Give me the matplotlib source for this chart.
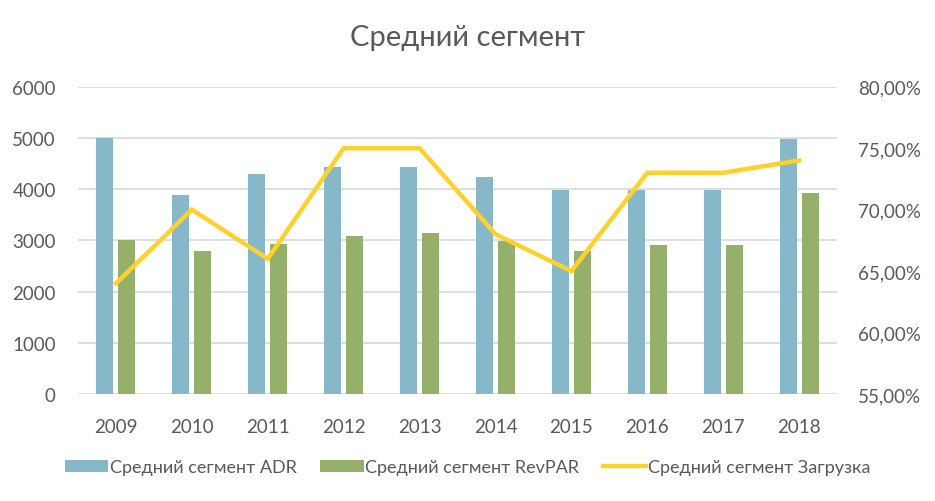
import matplotlib.pyplot as plt
import numpy as np
from matplotlib.ticker import FuncFormatter

years = ['2009', '2010', '2011', '2012', '2013', '2014', '2015', '2016', '2017', '2018']
adr = [5000, 3880, 4300, 4430, 4430, 4230, 3980, 3980, 3980, 4970]
revpar = [3000, 2790, 2930, 3080, 3140, 2980, 2790, 2900, 2900, 3920]
occupancy = [64.0, 70.0, 66.0, 75.0, 75.0, 68.0, 65.0, 73.0, 73.0, 74.0]

plt.rcParams['font.family'] = ['Lato', 'DejaVu Sans']
text_col = '#595959'

fig = plt.figure(figsize=(9.35, 5.02), dpi=100)
ax = fig.add_axes([78 / 935, 1 - 395 / 502, (837 - 78) / 935, (395 - 87.7) / 502])
ax2 = ax.twinx()

x = np.arange(len(years))
w = 0.225
b1 = ax.bar(x - 0.145, adr, w, color='#87b8c9', label='Средний сегмент ADR', zorder=2)
b2 = ax.bar(x + 0.145, revpar, w, color='#95b06b', label='Средний сегмент RevPAR', zorder=2)
l1, = ax2.plot(x, occupancy, color='#ffd22b', lw=3.2, label='Средний сегмент Загрузка',
               solid_joinstyle='miter')

ax.set_xlim(-0.5, len(years) - 0.5)
ax.set_ylim(0, 6000)
ax.set_yticks(range(0, 6001, 1000))
ax2.set_ylim(55, 80)
ax2.set_yticks(range(55, 81, 5))
ax2.yaxis.set_major_formatter(FuncFormatter(lambda v, p: f'{v:.2f}%'.replace('.', ',')))

ax.set_xticks(x)
ax.set_xticklabels(years)
ax.grid(axis='y', color='#d9d9d9', lw=1.2, zorder=0)
ax.set_axisbelow(True)
for a in (ax, ax2):
    for s in a.spines.values():
        s.set_visible(False)
    a.tick_params(length=0, colors=text_col, labelsize=13.5)
ax.tick_params(axis='y', pad=16)
ax.tick_params(axis='x', pad=17)
ax2.tick_params(axis='y', pad=15)

fig.text(0.5, 0.925, 'Средний сегмент', ha='center', va='center', fontsize=21, color=text_col)

fig.legend([b1, b2, l1], [b1.get_label(), b2.get_label(), l1.get_label()],
           loc='center', bbox_to_anchor=(0.5, 0.067), ncol=3, frameon=False,
           fontsize=13, labelcolor=text_col, handlelength=2.4, handletextpad=0.1,
           columnspacing=1.3)

fig.savefig('out.png', dpi=100)
